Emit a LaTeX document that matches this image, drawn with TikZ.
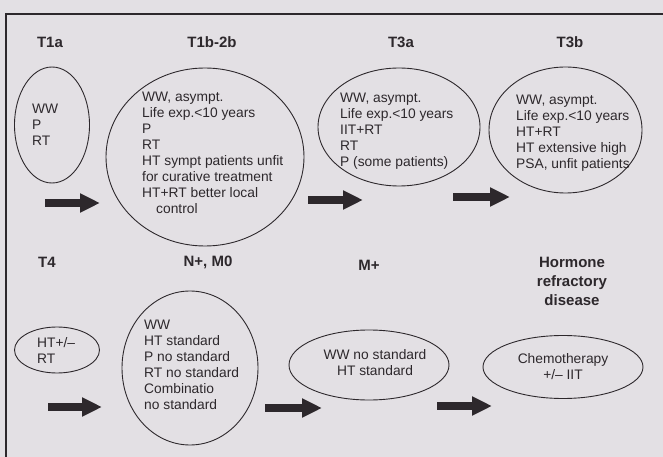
\documentclass[tikz,border=0pt]{standalone}
\usepackage{fontspec}
\setmainfont{Liberation Sans}
\usetikzlibrary{shapes.geometric,arrows.meta}
\definecolor{paper}{RGB}{227,224,228}
\definecolor{ink}{RGB}{45,40,44}
\tikzset{
  ell/.style={draw=ink, line width=0.9bp, ellipse, inner sep=0pt},
  body/.style={text=ink, font=\fontsize{13.8bp}{16bp}\selectfont, align=left, inner sep=0pt},
  head/.style={text=ink, font=\fontsize{15bp}{19bp}\selectfont\bfseries, align=center, inner sep=0pt},
  barrow/.style={draw=ink, line width=8bp, -{Triangle[length=20bp,width=18bp]}}
}
\begin{document}
\begin{tikzpicture}[x=1bp,y=-1bp]
\useasboundingbox (0,0) rectangle (663,457);
\fill[paper] (0,0) rectangle (663,457);
\draw[ink, line width=2bp] (6,457) -- (6,14) -- (663,14);

% headings
\node[head] (h1) at (50,42) {T1a};
\node[head] (h2) at (212,42) {T1b-2b};
\node[head] (h3) at (401,42) {T3a};
\node[head] (h4) at (570,42) {T3b};
\node[head] (h5) at (47,262) {T4};
\node[head] (h6) at (208,262) {N+, M0};
\node[head] (h7) at (369,265) {M+};
\node[head] (h8) at (572,281) {Hormone\\refractory\\disease};

% ellipses
\node[ell, minimum width=75bp, minimum height=116bp] (e1) at (52,125) {};
\node[ell, minimum width=198bp, minimum height=178bp] (e2) at (205,157) {};
\node[ell, minimum width=162bp, minimum height=118bp] (e3) at (399,127) {};
\node[ell, minimum width=153bp, minimum height=126bp] (e4) at (565.5,130) {};
\node[ell, minimum width=85bp, minimum height=46bp] (e5) at (57,350) {};
\node[ell, minimum width=136bp, minimum height=154bp] (e6) at (190,368) {};
\node[ell, minimum width=160bp, minimum height=70bp] (e7) at (369,365) {};
\node[ell, minimum width=160bp, minimum height=63bp] (e8) at (563,367) {};

% texts
\node[body, anchor=west] (t1) at (32,125) {WW\\P\\RT};
\node[body, anchor=west] (t2) at (142,153) {WW, asympt.\\Life exp.<10 years\\P\\RT\\HT sympt patients unfit\\for curative treatment\\HT+RT better local\\\hspace*{14bp}control};
\node[body, anchor=west] (t3) at (340,131) {WW, asympt.\\Life exp.<10 years\\IIT+RT\\RT\\P (some patients)};
\node[body, anchor=west] (t4) at (516,133) {WW, asympt.\\Life exp.<10 years\\HT+RT\\HT extensive high\\PSA, unfit patients};
\node[body, anchor=west] (t5) at (37,350) {HT+/–\\RT};
\node[body, anchor=west] (t6) at (144,365) {WW\\HT standard\\P no standard\\RT no standard\\Combinatio\\no standard};
\node[body, align=center] (t7) at (375,363) {WW no standard\\HT standard};
\node[body, align=center] (t8) at (563,367) {Chemotherapy\\+/– IIT};

% arrows
\coordinate (a1s) at (45,203); \coordinate (a1e) at (100,203);
\coordinate (a2s) at (308,200); \coordinate (a2e) at (363,200);
\coordinate (a3s) at (453,197); \coordinate (a3e) at (510,197);
\coordinate (b1s) at (48,407); \coordinate (b1e) at (102,407);
\coordinate (b2s) at (265,408); \coordinate (b2e) at (322,408);
\coordinate (b3s) at (437,406); \coordinate (b3e) at (492,406);
\draw[barrow] (a1s) -- (a1e);
\draw[barrow] (a2s) -- (a2e);
\draw[barrow] (a3s) -- (a3e);
\draw[barrow] (b1s) -- (b1e);
\draw[barrow] (b2s) -- (b2e);
\draw[barrow] (b3s) -- (b3e);
\end{tikzpicture}
\end{document}
